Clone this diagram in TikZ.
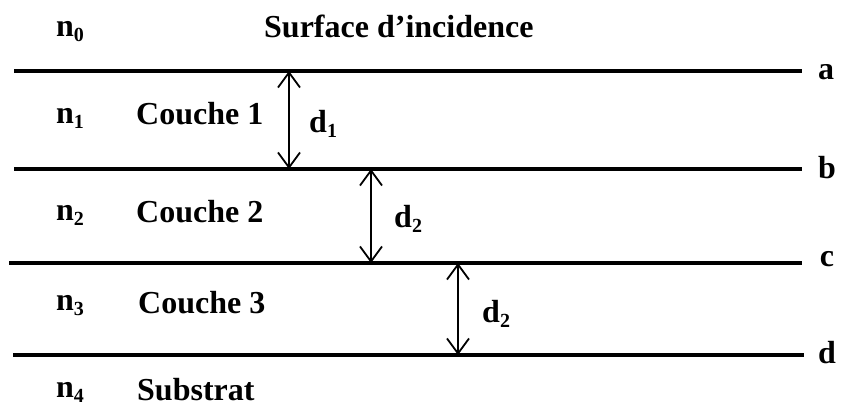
\documentclass[tikz,border=0pt]{standalone}
\usepackage{fontspec}
\setmainfont{Liberation Serif}
\usetikzlibrary{arrows.meta}
\newcommand{\sbs}[1]{\raisebox{-5pt}{\fontsize{20}{20}\selectfont #1}}
\begin{document}
\begin{tikzpicture}[x=1pt,y=-1pt,
  layer/.style={line width=3.8pt},
  dim/.style={line width=1.8pt,{Straight Barb[length=15pt,width=22pt,line width=1.8pt]}-{Straight Barb[length=15pt,width=22pt,line width=1.8pt]}},
  lbl/.style={font=\fontsize{32}{34}\selectfont\bfseries,inner sep=0pt},
  lw/.style={lbl,anchor=base west}]
\useasboundingbox (0,0) rectangle (843,407);
% interfaces
\coordinate (a1) at (14,71);  \coordinate (a2) at (802,71);
\coordinate (b1) at (14,169); \coordinate (b2) at (802,169);
\coordinate (c1) at (9,263);  \coordinate (c2) at (802,263);
\coordinate (d1) at (13,355); \coordinate (d2) at (804,355);
\draw[layer] (a1) -- (a2);
\draw[layer] (b1) -- (b2);
\draw[layer] (c1) -- (c2);
\draw[layer] (d1) -- (d2);
% thickness arrows
\coordinate (p1t) at (289,71);  \coordinate (p1b) at (289,169);
\coordinate (p2t) at (371,169); \coordinate (p2b) at (371,263);
\coordinate (p3t) at (458,263); \coordinate (p3b) at (458,355);
\draw[dim] (p1t) -- (p1b);
\draw[dim] (p2t) -- (p2b);
\draw[dim] (p3t) -- (p3b);
% labels
\node[lw] (n0) at (56,36) {n\sbs{0}};
\node[lw] (surf) at (264,37) {Surface d’incidence};
\node[lbl] (la) at (826,72) {a};
\node[lbl] (lb) at (827,168) {b};
\node[lbl] (lc) at (827,259) {c};
\node[lbl] (ld) at (827,353) {d};
\node[lw] (n1) at (56,123) {n\sbs{1}};
\node[lw] (c1t) at (136,124) {Couche 1};
\node[lw] (dd1) at (309,132) {d\sbs{1}};
\node[lw] (n2) at (56,220) {n\sbs{2}};
\node[lw] (c2t) at (136,222) {Couche 2};
\node[lw] (dd2) at (394,227) {d\sbs{2}};
\node[lw] (n3) at (56,310) {n\sbs{3}};
\node[lw] (c3t) at (138,313) {Couche 3};
\node[lw] (dd3) at (482,322) {d\sbs{2}};
\node[lw] (n4) at (56,397) {n\sbs{4}};
\node[lw] (sub) at (137,400) {Substrat};
\end{tikzpicture}
\end{document}
